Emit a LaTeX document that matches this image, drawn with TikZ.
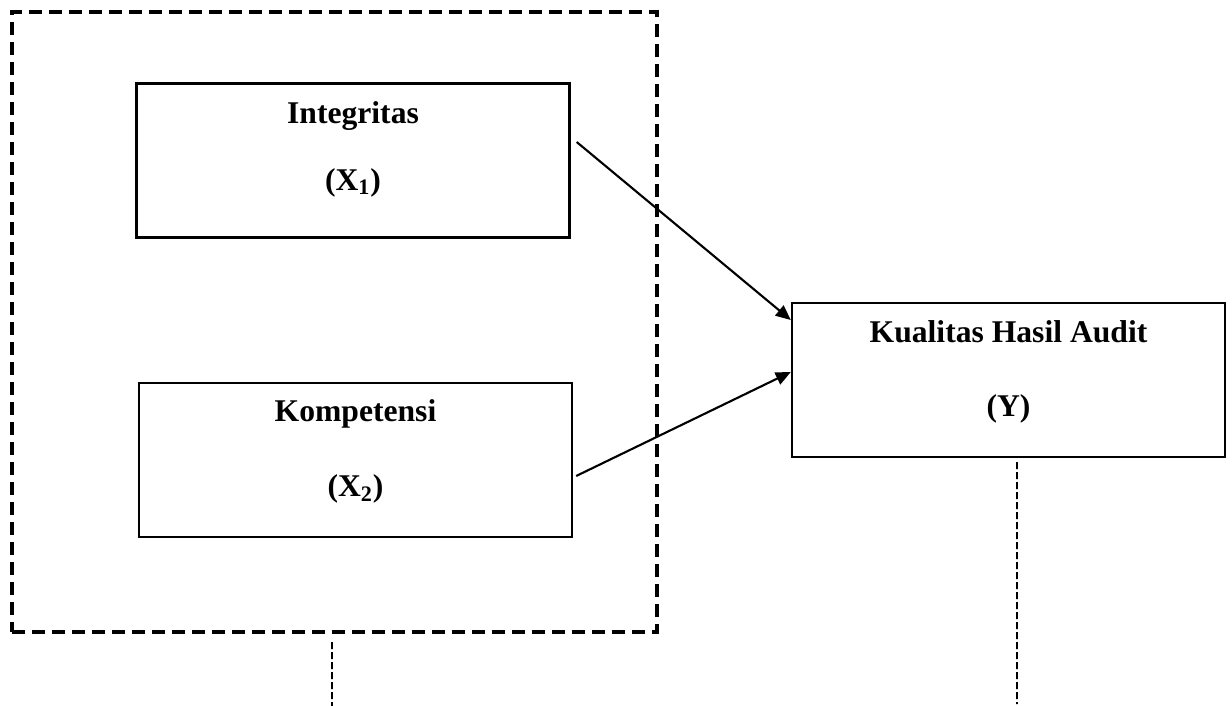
\documentclass[tikz,border=0pt]{standalone}
\usepackage{fontspec}
\setmainfont{Liberation Serif}
\usetikzlibrary{positioning, arrows.meta}

\begin{document}
\begin{tikzpicture}[
    x=0.02cm, y=-0.02cm,
    every node/.style={font=\fontsize{18}{22}\selectfont\bfseries},
    box/.style={draw, line width=1.4pt, minimum width=8.66cm, minimum height=3.08cm, inner sep=0pt},
    frame/.style={draw, line width=2.4pt, dash pattern=on 0.26cm off 0.14cm,
                  minimum width=12.9cm, minimum height=12.4cm, inner sep=0pt},
    txt/.style={anchor=base, inner sep=0pt},
    arrow/.style={-{Triangle[length=0.3cm, width=0.26cm]}, line width=1.2pt},
    guide/.style={line width=1.1pt, dash pattern=on 0.14cm off 0.06cm},
]
\useasboundingbox (0,0) rectangle (1232,706);

% --- Kelompok variabel independen (kotak putus-putus) ---------------
\node[frame] (grp) at (334.5,322) {};

% --- Variabel X1 dan X2 ---------------------------------------------
\node[box] (int) at (353,160.5) {};
\node[txt] at ([yshift=-0.82cm]int.north) {Integritas};
\node[txt] at ([yshift=-2.16cm]int.north) {(X\textsubscript{1})};

\node[box] (komp) at (355.5,460) {};
\node[txt] at ([yshift=-0.80cm]komp.north) {Kompetensi};
\node[txt] at ([yshift=-2.30cm]komp.north) {(X\textsubscript{2})};

% --- Variabel Y -----------------------------------------------------
\node[box] (hasil) at (1008.5,380) {};
\node[txt] at ([yshift=-0.82cm]hasil.north) {Kualitas Hasil Audit};
\node[txt] at ([yshift=-2.30cm]hasil.north) {(Y)};

% --- Pengaruh X -> Y ------------------------------------------------
\draw[arrow] ([shift={(0.12cm,0.37cm)}]int.east) -- ([yshift=1.2cm]hasil.west);
\draw[arrow] ([shift={(0.06cm,-0.32cm)}]komp.east) -- ([yshift=0.16cm]hasil.west);

% --- Garis putus-putus ke bawah -------------------------------------
\coordinate (ujungX) at (332,706);
\coordinate (ujungY) at (1017,704);
\draw[guide] ([shift={(-0.05cm,-0.16cm)}]grp.south) -- (ujungX);
\draw[guide] ([shift={(0.17cm,-0.08cm)}]hasil.south) -- (ujungY);

\end{tikzpicture}
\end{document}
